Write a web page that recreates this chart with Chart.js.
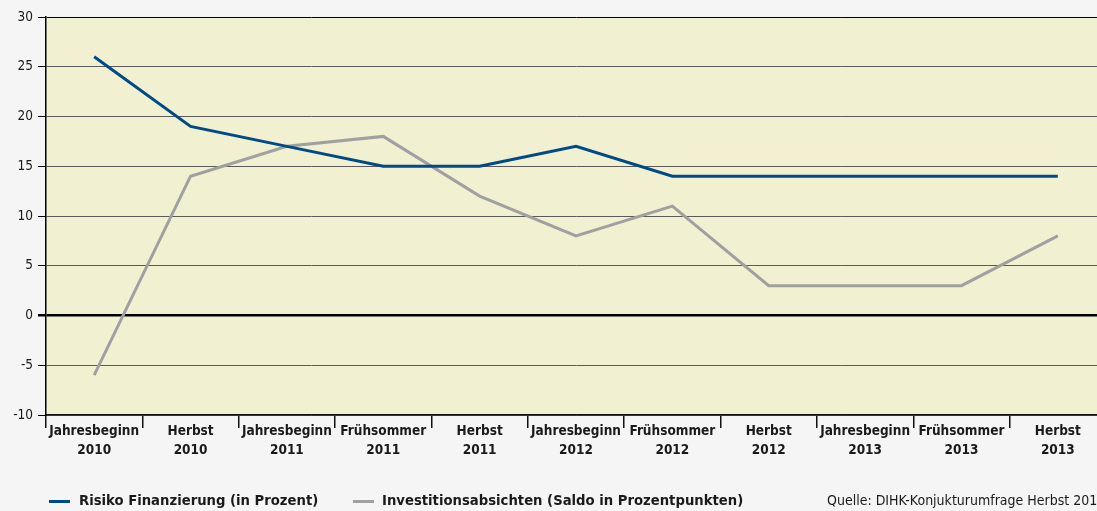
<!DOCTYPE html>
<html>
  <head><meta charset="utf-8"></head>
  <body style="margin:0; background:#f5f5f5; overflow:hidden; width:1097px; height:511px;">
    <div style="position:absolute; left:0; top:0; width:1106px; height:511px;">
      <canvas id="risk"></canvas>
    </div>
    <div id="legend" style="position:absolute; left:0; top:491px; width:1097px; height:20px; overflow:hidden; font-family:'Liberation Sans Narrow','DejaVu Sans Condensed',sans-serif; color:#1a1a1a; white-space:nowrap;">
      <span style="position:absolute; left:49px; top:9px; width:21px; height:3px; background:#004b87;"></span>
      <span style="position:absolute; left:79px; top:0; font-weight:bold; font-size:14.7px;">Risiko Finanzierung (in Prozent)</span>
      <span style="position:absolute; left:353px; top:9px; width:21px; height:3px; background:#a0a0a0;"></span>
      <span style="position:absolute; left:382px; top:0; font-weight:bold; font-size:14.7px;">Investitionsabsichten (Saldo in Prozentpunkten)</span>
      <span style="position:absolute; left:827px; top:1px; font-size:14px;">Quelle: DIHK-Konjukturumfrage Herbst 2013</span>
    </div>

    <script src="https://cdn.jsdelivr.net/npm/chart.js"></script>
    <script>
      const periods = [
        ['Jahresbeginn', '2010'], ['Herbst', '2010'],
        ['Jahresbeginn', '2011'], ['Frühsommer', '2011'], ['Herbst', '2011'],
        ['Jahresbeginn', '2012'], ['Frühsommer', '2012'], ['Herbst', '2012'],
        ['Jahresbeginn', '2013'], ['Frühsommer', '2013'], ['Herbst', '2013']
      ];
      const risikoFinanzierung = [26, 19, 17, 15, 15, 17, 14, 14, 14, 14, 14];
      const investitionsabsichten = [-6, 14, 17, 18, 12, 8, 11, 3, 3, 3, 8];
      const yTicks = [-10, -5, 0, 5, 10, 15, 20, 25, 30];

      const fontFam = "'Liberation Sans Narrow', 'DejaVu Sans Condensed', sans-serif";

      // fill the plot area light yellow
      const plotBg = {
        id: 'plotBg',
        beforeDraw(chart) {
          const { ctx, chartArea: a } = chart;
          ctx.save();
          ctx.fillStyle = '#f1f0d0';
          ctx.fillRect(a.left, a.top, a.right - a.left, a.bottom - a.top);
          ctx.restore();
        }
      };

      const ctx = document.getElementById('risk').getContext('2d');
      new Chart(ctx, {
        type: 'line',
        data: {
          labels: periods,
          datasets: [
            {
              label: 'Risiko Finanzierung (in Prozent)',
              data: risikoFinanzierung,
              borderColor: '#004b87',
              borderWidth: 3,
              pointRadius: 0,
              tension: 0,
              order: 1
            },
            {
              label: 'Investitionsabsichten (Saldo in Prozentpunkten)',
              data: investitionsabsichten,
              borderColor: '#a0a0a0',
              borderWidth: 3,
              pointRadius: 0,
              tension: 0,
              order: 2
            }
          ]
        },
        options: {
          responsive: true,
          maintainAspectRatio: false,
          animation: false,
          layout: { padding: { top: 17, right: 0, bottom: 0, left: 0 } },
          plugins: { legend: { display: false }, tooltip: { enabled: false } },
          scales: {
            x: {
              offset: true,
              grid: {
                offset: true,
                drawOnChartArea: false,
                drawTicks: true,
                tickLength: 13,
                color: '#111',
                lineWidth: 1.5
              },
              border: { display: true, color: '#111', width: 1.5 },
              ticks: {
                color: '#1a1a1a',
                padding: -6,
                maxRotation: 0,
                autoSkip: false,
                font: { family: fontFam, size: 13.5, weight: 'bold', lineHeight: 1.4 }
              },
              afterFit(scale) { scale.height = 96; }
            },
            y: {
              min: -10,
              max: 30,
              afterBuildTicks(scale) { scale.ticks = yTicks.map(v => ({ value: v })); },
              grid: {
                color: (c) => (c.tick && (c.tick.value === 0 || c.tick.value === 30)) ? '#000' : '#5a5a5a',
                lineWidth: (c) => (c.tick && c.tick.value === 0) ? 2.5 : 1,
                tickLength: 8,
                tickColor: '#000'
              },
              border: { display: true, color: '#000', width: 1.5 },
              ticks: {
                color: '#1a1a1a',
                padding: 5,
                font: { family: fontFam, size: 13.5 }
              },
              afterFit(scale) { scale.width = 46; }
            }
          }
        },
        plugins: [plotBg]
      });
    </script>
  </body>
</html>
